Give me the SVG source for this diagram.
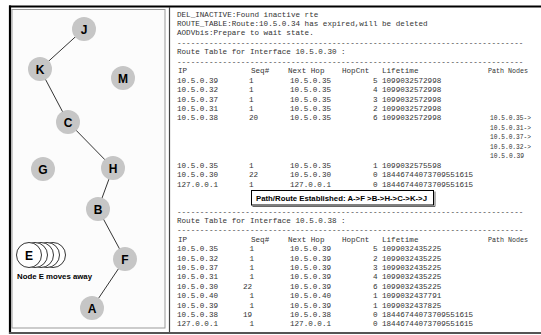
<svg xmlns="http://www.w3.org/2000/svg" width="541" height="335" viewBox="0 0 541 335">
<style>
.node circle{fill:#c6c6c6;stroke:none}
.node text{font-family:"Liberation Sans",Arial,sans-serif;font-weight:bold;font-size:12px;fill:#000;text-anchor:middle}
.mono{font-family:"Liberation Mono","Courier New",monospace;font-size:7.6px;fill:#333}
.edge{stroke:#000;stroke-width:0.8}
.node circle.ec{fill:#fff;stroke:#000;stroke-width:0.8}
</style>
<rect width="541" height="335" fill="#fff"/>
<!-- frame -->
<rect x="12" y="9.5" width="153" height="318.5" fill="#fcfcfc" stroke="#9a9a9a" stroke-width="1"/>
<line x1="9" y1="6.5" x2="541" y2="6.5" stroke="#000" stroke-width="2.2"/>
<line x1="10" y1="5.5" x2="10" y2="334" stroke="#000" stroke-width="2.2"/>
<line x1="9" y1="333" x2="541" y2="333" stroke="#555" stroke-width="2"/>
<line x1="169.5" y1="7" x2="169.5" y2="332" stroke="#444" stroke-width="1.2"/>

<g id="connectors">
<line class="edge" x1="84" y1="29" x2="40" y2="69"/>
<line class="edge" x1="40" y1="69" x2="68" y2="122"/>
<line class="edge" x1="68" y1="122" x2="113" y2="168"/>
<line class="edge" x1="113" y1="168" x2="98" y2="209"/>
<line class="edge" x1="98" y1="209" x2="125" y2="259"/>
<line class="edge" x1="125" y1="259" x2="92" y2="308"/>
</g>

<g id="node-J" class="node"><circle cx="84" cy="29" r="12"/><text x="84" y="33.5">J</text></g>
<g id="node-K" class="node"><circle cx="40" cy="69" r="12"/><text x="40" y="73.5">K</text></g>
<g id="node-M" class="node"><circle cx="123" cy="78" r="12"/><text x="123" y="82.5">M</text></g>
<g id="node-C" class="node"><circle cx="68" cy="122" r="12"/><text x="68" y="126.5">C</text></g>
<g id="node-G" class="node"><circle cx="43" cy="169" r="12"/><text x="43" y="173.5">G</text></g>
<g id="node-H" class="node"><circle cx="113" cy="168" r="12"/><text x="113" y="172.5">H</text></g>
<g id="node-B" class="node"><circle cx="98" cy="209" r="12"/><text x="98" y="213.5">B</text></g>
<g id="node-F" class="node"><circle cx="125" cy="259" r="12"/><text x="125" y="263.5">F</text></g>
<g id="node-A" class="node"><circle cx="92" cy="308" r="12"/><text x="92" y="312.5">A</text></g>
<g id="node-E" class="node">
<circle class="ec" cx="53" cy="255" r="12.5"/>
<circle class="ec" cx="47" cy="255" r="12.5"/>
<circle class="ec" cx="41" cy="255" r="12.5"/>
<circle class="ec" cx="35" cy="255" r="12.5"/>
<circle class="ec" cx="29" cy="255" r="12.5"/>
<text x="29" y="259.5">E</text>
<text x="17" y="279" style="font-size:8px;text-anchor:start" textLength="75" lengthAdjust="spacingAndGlyphs">Node E moves away</text>
</g>

<!-- console text -->
<g class="mono">
<text x="177" y="16.5">DEL_INACTIVE:Found inactive rte</text>
<text x="177" y="26">ROUTE_TABLE:Route:10.5.0.34 has expired,will be deleted</text>
<text x="177" y="35.4">AODVbis:Prepare to wait state.</text>
<text x="177" y="44.8">----------------------------------------------------------------------------</text>
<text x="177" y="54.3">Route Table for Interface 10.5.0.30 :</text>
<text x="177" y="63.7">----------------------------------------------------------------------------</text>
<text x="178" y="73.2">IP</text><text x="251" y="73.2">Seq#</text><text x="288" y="73.2">Next Hop</text><text x="342" y="73.2">HopCnt</text><text x="382" y="73.2">Lifetime</text><text x="488" y="73.2" textLength="40" lengthAdjust="spacingAndGlyphs">Path Nodes</text>

<text x="177" y="82.6">10.5.0.39</text><text x="249" y="82.6">1</text><text x="290" y="82.6">10.5.0.35</text><text x="373" y="82.6">5</text><text x="382" y="82.6">1099032572998</text>
<text x="177" y="92.1">10.5.0.32</text><text x="249" y="92.1">1</text><text x="290" y="92.1">10.5.0.35</text><text x="373" y="92.1">4</text><text x="382" y="92.1">1099032572998</text>
<text x="177" y="101.5">10.5.0.37</text><text x="249" y="101.5">1</text><text x="290" y="101.5">10.5.0.35</text><text x="373" y="101.5">3</text><text x="382" y="101.5">1099032572998</text>
<text x="177" y="111">10.5.0.31</text><text x="249" y="111">1</text><text x="290" y="111">10.5.0.35</text><text x="373" y="111">2</text><text x="382" y="111">1099032572998</text>
<text x="177" y="120.4">10.5.0.38</text><text x="249" y="120.4">20</text><text x="290" y="120.4">10.5.0.35</text><text x="373" y="120.4">6</text><text x="382" y="120.4">1099032572998</text><text x="490" y="120.4" textLength="41" lengthAdjust="spacingAndGlyphs">10.5.0.35-&gt;</text>
<text x="490" y="129.9" textLength="41" lengthAdjust="spacingAndGlyphs">10.5.0.31-&gt;</text>
<text x="490" y="139.3" textLength="41" lengthAdjust="spacingAndGlyphs">10.5.0.37-&gt;</text>
<text x="490" y="148.8" textLength="41" lengthAdjust="spacingAndGlyphs">10.5.0.32-&gt;</text>
<text x="490" y="158.2" textLength="34" lengthAdjust="spacingAndGlyphs">10.5.0.39</text>
<text x="177" y="167.7">10.5.0.35</text><text x="249" y="167.7">1</text><text x="290" y="167.7">10.5.0.35</text><text x="373" y="167.7">1</text><text x="382" y="167.7">1099032575598</text>
<text x="177" y="177.1">10.5.0.30</text><text x="249" y="177.1">22</text><text x="290" y="177.1">10.5.0.30</text><text x="373" y="177.1">0</text><text x="382" y="177.1">18446744073709551615</text>
<text x="177" y="186.6">127.0.0.1</text><text x="249" y="186.6">1</text><text x="290" y="186.6">127.0.0.1</text><text x="373" y="186.6">0</text><text x="382" y="186.6">18446744073709551615</text>

<text x="177" y="214">----------------------------------------------------------------------------</text>
<text x="177" y="223">Route Table for Interface 10.5.0.38 :</text>
<text x="177" y="232.4">----------------------------------------------------------------------------</text>
<text x="178" y="241.8">IP</text><text x="251" y="241.8">Seq#</text><text x="288" y="241.8">Next Hop</text><text x="342" y="241.8">HopCnt</text><text x="382" y="241.8">Lifetime</text><text x="488" y="241.8" textLength="40" lengthAdjust="spacingAndGlyphs">Path Nodes</text>

<text x="177" y="251.2">10.5.0.35</text><text x="249.5" y="251.2">1</text><text x="290" y="251.2">10.5.0.39</text><text x="373" y="251.2">5</text><text x="382" y="251.2">1099032435225</text>
<text x="177" y="260.6">10.5.0.32</text><text x="249.5" y="260.6">1</text><text x="290" y="260.6">10.5.0.39</text><text x="373" y="260.6">2</text><text x="382" y="260.6">1099032435225</text>
<text x="177" y="270">10.5.0.37</text><text x="249.5" y="270">1</text><text x="290" y="270">10.5.0.39</text><text x="373" y="270">3</text><text x="382" y="270">1099032435225</text>
<text x="177" y="279.4">10.5.0.31</text><text x="249.5" y="279.4">1</text><text x="290" y="279.4">10.5.0.39</text><text x="373" y="279.4">4</text><text x="382" y="279.4">1099032435225</text>
<text x="177" y="288.8">10.5.0.30</text><text x="243" y="288.8">22</text><text x="290" y="288.8">10.5.0.39</text><text x="373" y="288.8">6</text><text x="382" y="288.8">1099032435225</text>
<text x="177" y="298.2">10.5.0.40</text><text x="249.5" y="298.2">1</text><text x="290" y="298.2">10.5.0.40</text><text x="373" y="298.2">1</text><text x="382" y="298.2">1099032437791</text>
<text x="177" y="307.6">10.5.0.39</text><text x="249.5" y="307.6">1</text><text x="290" y="307.6">10.5.0.39</text><text x="373" y="307.6">1</text><text x="382" y="307.6">1099032437825</text>
<text x="177" y="317">10.5.0.38</text><text x="243" y="317">19</text><text x="290" y="317">10.5.0.38</text><text x="373" y="317">0</text><text x="382" y="317">18446744073709551615</text>
<text x="177" y="326.4">127.0.0.1</text><text x="249.5" y="326.4">1</text><text x="290" y="326.4">127.0.0.1</text><text x="373" y="326.4">0</text><text x="382" y="326.4">18446744073709551615</text>
</g>

<g id="route-box">
<rect x="251.5" y="190.5" width="182" height="14.5" fill="#fff" stroke="#000" stroke-width="1"/>
<polyline points="252.5,206.5 435,206.5 435,191.5" fill="none" stroke="#666" stroke-width="1"/>
<text x="256" y="201" font-family="'Liberation Sans',Arial,sans-serif" font-weight="bold" font-size="8" fill="#000" textLength="171" lengthAdjust="spacingAndGlyphs">Path/Route Established: A-&gt;F &gt;B-&gt;H-&gt;C-&gt;K-&gt;J</text>
</g>
</svg>
